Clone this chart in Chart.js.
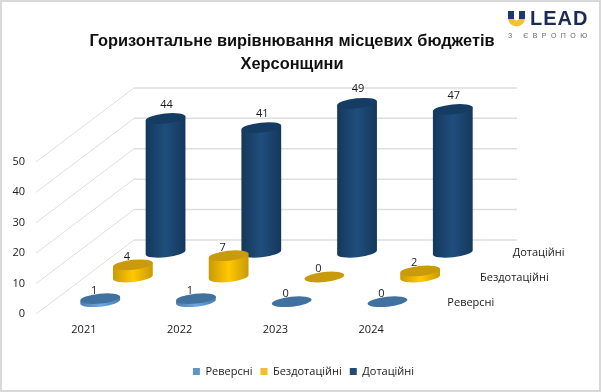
<!DOCTYPE html>
<html>
<head>
<meta charset="utf-8">
<style>
html,body{margin:0;padding:0;background:#fff;}
canvas{display:block;}
</style>
<script src="https://cdn.jsdelivr.net/npm/chart.js@4"></script>
</head>
<body>
<canvas id="grafik" width="601" height="392"></canvas>
<script>
const roky = ["2021","2022","2023","2024"];
const reversni = [1,1,0,0];
const bezdotatsiini = [4,7,0,2];
const dotatsiini = [44,41,49,47];
const nazvy = ["Реверсні","Бездотаційні","Дотаційні"];
const zagolovok = ["Горизонтальне вирівнювання місцевих бюджетів","Херсонщини"];

const shryft = '"Open Sans"';
const krokX = 32.67, krokY = 24.67;
const rx = 20, ry = 5, nahyl = -6*Math.PI/180;

// colours of each series: edge, middle, top of the cylinder, label offset
const vyhlyad = [
 {kray:"#4a7db0",seredyna:"#6ea8de",verh:"#41719f",dx:-6,dy:-8},
 {kray:"#c99a06",seredyna:"#ffc800",verh:"#c99a0c",dx:-6,dy:-8},
 {kray:"#14385b",seredyna:"#1f4e7e",verh:"#153c62",dx:1,dy:-14}
];

function tsylindr(ctx,x,yNyz,yVerh,v){
 const ex = rx*Math.cos(nahyl), ey = rx*Math.sin(nahyl);
 if(yNyz-yVerh>0.5){
  const g = ctx.createLinearGradient(x-ex,0,x+ex,0);
  g.addColorStop(0,v.kray);
  g.addColorStop(0.5,v.seredyna);
  g.addColorStop(1,v.kray);
  ctx.fillStyle = g;
  ctx.beginPath();
  ctx.moveTo(x-ex,yVerh-ey);
  ctx.lineTo(x-ex,yNyz-ey);
  ctx.ellipse(x,yNyz,rx,ry,nahyl,Math.PI,0,true);
  ctx.lineTo(x+ex,yVerh+ey);
  ctx.closePath();
  ctx.fill();
 }
 ctx.fillStyle = v.verh;
 ctx.beginPath();
 ctx.ellipse(x,yVerh,rx,ry,nahyl,0,Math.PI*2);
 ctx.fill();
}

const kartyna = {
 id:"kartyna",
 afterLayout(chart){
  chart.titleBlock.left = 0;
  chart.titleBlock.right = 584;
  chart.legend.left = 3;
  chart.legend.right = 604;
 },
 beforeDatasetsDraw(chart){
  const ctx = chart.ctx, y = chart.scales.y, a = chart.chartArea;
  const hlybX = krokX*3, hlybY = krokY*3;
  ctx.save();

  // rama
  ctx.strokeStyle = "#d9d9d9";
  ctx.lineWidth = 2;
  ctx.strokeRect(1,1,599,390);

  // sitka
  y.ticks.forEach(t=>{
   const p = y.getPixelForValue(t.value);
   ctx.strokeStyle = "#dedede";
   ctx.lineWidth = 1;
   ctx.beginPath();
   ctx.moveTo(a.left,p);
   ctx.lineTo(a.left+hlybX,p-hlybY);
   ctx.stroke();
   ctx.lineWidth = 1.5;
   ctx.beginPath();
   ctx.moveTo(a.left+hlybX,p-hlybY);
   ctx.lineTo(a.right+hlybX,p-hlybY);
   ctx.stroke();
  });

  // tsylindry vid zadnoho riadu do perednoho
  for(let s=2;s>=0;s--){
   const meta = chart.getDatasetMeta(s);
   const v = vyhlyad[s];
   const sx = krokX*(s+0.5), sy = krokY*(s+0.5);
   meta.data.forEach(bar=>{
    tsylindr(ctx,bar.x+sx,y.getPixelForValue(0)-sy,bar.y-sy,v);
   });
  }

  // pidpysy
  ctx.fillStyle = "#1a1a1a";
  ctx.font = "11px "+shryft;
  ctx.textAlign = "center";
  ctx.textBaseline = "middle";
  for(let s=0;s<3;s++){
   const meta = chart.getDatasetMeta(s);
   const v = vyhlyad[s];
   const sx = krokX*(s+0.5), sy = krokY*(s+0.5);
   meta.data.forEach((bar,i)=>{
    ctx.fillText(chart.data.datasets[s].data[i],bar.x+sx+v.dx,bar.y-sy+v.dy);
   });
   ctx.textAlign = "left";
   ctx.fillText(nazvy[s],a.right+sx+12,y.getPixelForValue(0)-sy+1);
   ctx.textAlign = "center";
  }

  // logotyp
  const g = ctx.createLinearGradient(0,11,0,26);
  g.addColorStop(0,"#1f3a68");
  g.addColorStop(0.55,"#1f3a68");
  g.addColorStop(0.55,"#f2c230");
  g.addColorStop(1,"#f2c230");
  ctx.strokeStyle = g;
  ctx.lineWidth = 6;
  ctx.beginPath();
  ctx.moveTo(511,11);
  ctx.lineTo(511,18);
  ctx.arc(516.5,18,5.5,Math.PI,0,true);
  ctx.lineTo(522,11);
  ctx.stroke();
  ctx.textAlign = "left";
  ctx.textBaseline = "alphabetic";
  ctx.font = 'bold 20px "Liberation Sans"';
  ctx.fillStyle = "#1e2a55";
  ctx.letterSpacing = "1px";
  ctx.fillText("LEAD",530,25);
  ctx.font = '7px "Liberation Sans"';
  ctx.fillStyle = "#666";
  ctx.letterSpacing = "4.5px";
  ctx.fillText("З ЄВРОПОЮ",508,38);
  ctx.restore();
  return false;
 }
};

new Chart(document.getElementById("grafik"),{
 type:"bar",
 plugins:[kartyna],
 data:{
  labels:roky,
  datasets:[
   {label:nazvy[0],data:reversni,backgroundColor:"#6296c2",grouped:false},
   {label:nazvy[1],data:bezdotatsiini,backgroundColor:"#f2be2a",grouped:false},
   {label:nazvy[2],data:dotatsiini,backgroundColor:"#234b72",grouped:false}
  ]
 },
 options:{
  responsive:false,
  animation:false,
  layout:{padding:{left:0,right:182,top:0,bottom:5}},
  plugins:{
   tooltip:{enabled:false},
   title:{
    display:true,
    text:zagolovok,
    color:"#111",
    font:{family:'"Liberation Sans"',size:16.4,weight:"bold",lineHeight:1.4},
    padding:{top:30,bottom:86}
   },
   legend:{
    position:"bottom",
    labels:{
     boxWidth:7,boxHeight:7,padding:8,
     color:"#1a1a1a",
     font:{family:shryft,size:11}
    }
   }
  },
  scales:{
   x:{
    grid:{display:false},
    border:{display:false},
    ticks:{color:"#1a1a1a",font:{family:shryft,size:11},padding:1,maxRotation:0},
    afterFit(s){s.height=44;}
   },
   y:{
    min:0,max:50,
    grid:{display:false},
    border:{display:false},
    ticks:{stepSize:10,color:"#1a1a1a",font:{family:shryft,size:11},padding:3},
    afterFit(s){s.width=36;}
   }
  }
 }
});
</script>
</body>
</html>
